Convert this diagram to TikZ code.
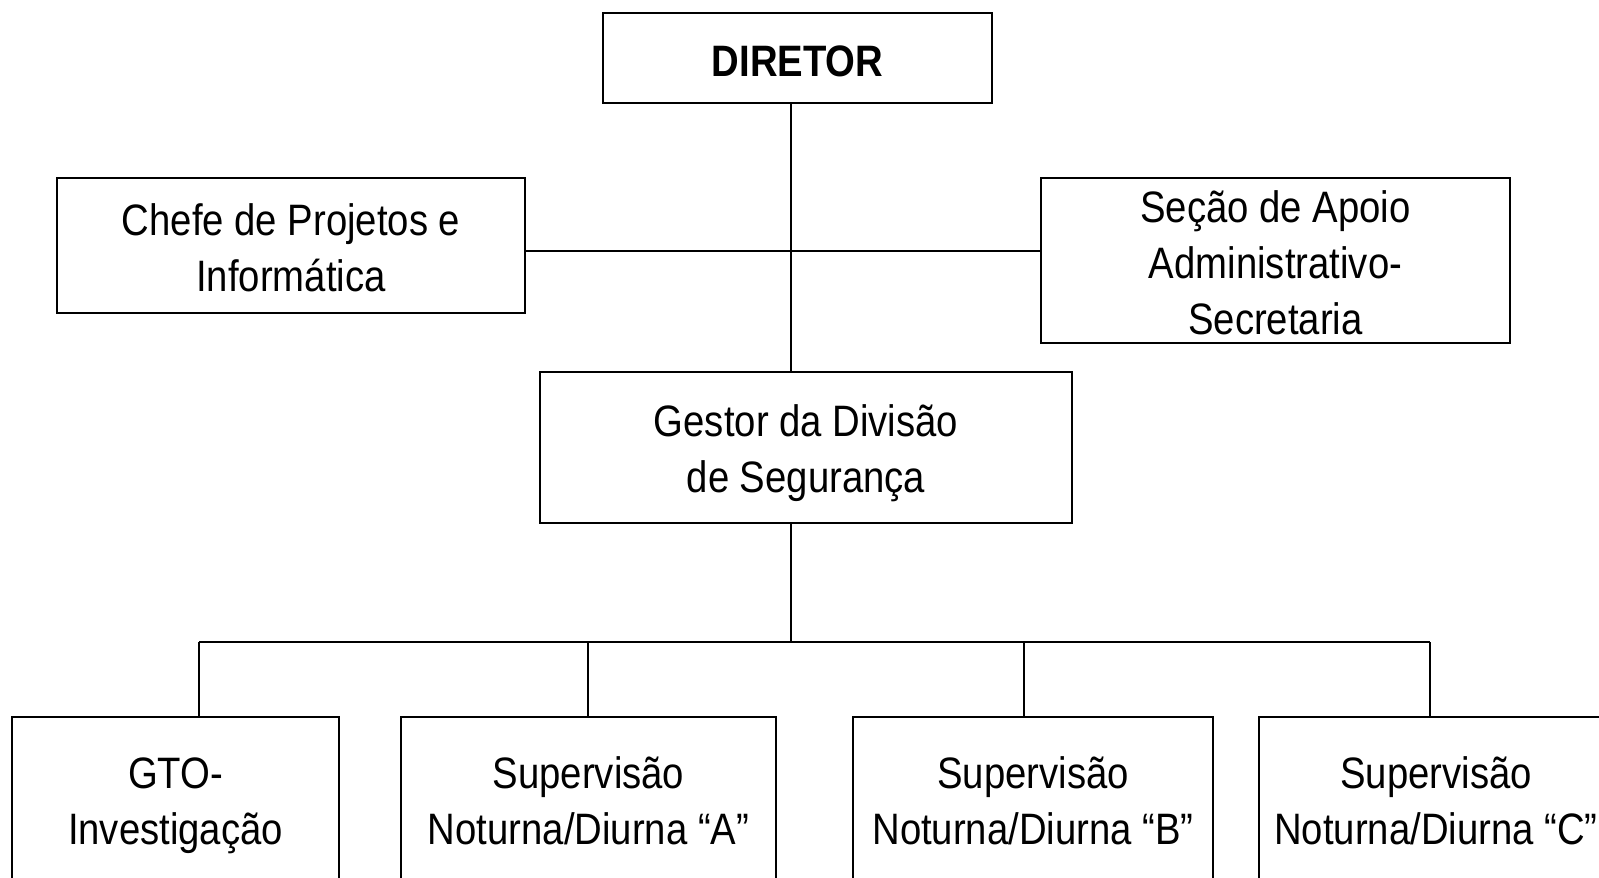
\documentclass[tikz,border=0pt]{standalone}
\usepackage{fontspec}
\setmainfont{Liberation Sans}[FakeStretch=0.87]
\begin{document}
\begin{tikzpicture}[x=1pt,y=-1pt,
  orgbox/.style={draw=black,line width=2.6pt,rectangle,inner sep=0pt,align=flush center,
    font=\fontsize{44}{56}\selectfont},
  link/.style={draw=black,line width=2.6pt}]
\clip (0,0) rectangle (1599,878);
\fill[white] (0,0) rectangle (1599,878);
% boxes
\node[orgbox,minimum width=389pt,minimum height=90pt,text width=370pt,text height=36pt,text depth=0pt] (dir) at (797.5,58) {\textbf{DIRETOR}};
\node[orgbox,minimum width=468pt,minimum height=135pt,text width=450pt,text height=0pt,text depth=20pt] (chefe) at (291,245.5) {Chefe de Projetos e\\Informática};
\node[orgbox,minimum width=469pt,minimum height=165pt,text width=450pt,text height=0pt,text depth=77pt] (secao) at (1275.5,260.5) {Seção de Apoio\\Administrativo-\\Secretaria};
\node[orgbox,minimum width=532pt,minimum height=151pt,text width=510pt,text height=0pt,text depth=23pt] (gestor) at (806,447.5) {Gestor da Divisão\\de Segurança};
\node[orgbox,minimum width=327pt,minimum height=172pt,text width=315pt,text height=0pt,text depth=29pt] (gto) at (175.5,803) {GTO-\\Investigação};
\node[orgbox,minimum width=375pt,minimum height=172pt,text width=360pt,text height=0pt,text depth=29pt] (supa) at (588.5,803) {Supervisão\\Noturna/Diurna “A”};
\node[orgbox,minimum width=360pt,minimum height=172pt,text width=345pt,text height=0pt,text depth=29pt] (supb) at (1033,803) {Supervisão\\Noturna/Diurna “B”};
\node[orgbox,minimum width=354pt,minimum height=172pt,text width=340pt,text height=0pt,text depth=29pt] (supc) at (1436,803) {Supervisão\\Noturna/Diurna “C”};
% junctions
\coordinate (spine) at (791,251);
\coordinate (busL) at (199,642);
\coordinate (busM) at (791,642);
\coordinate (busR) at (1430,642);
\coordinate (dropA) at (588,642);
\coordinate (dropB) at (1024,642);
% connectors
\draw[link] (dir.south -| spine) -- (gestor.north -| spine);
\draw[link] (chefe.east |- spine) -- (secao.west |- spine);
\draw[link] (gestor.south -| busM) -- (busM);
\draw[link] (busL) -- (busR);
\draw[link] (busL) -- (gto.north -| busL);
\draw[link] (dropA) -- (supa.north -| dropA);
\draw[link] (dropB) -- (supb.north -| dropB);
\draw[link] (busR) -- (supc.north -| busR);
\end{tikzpicture}
\end{document}
